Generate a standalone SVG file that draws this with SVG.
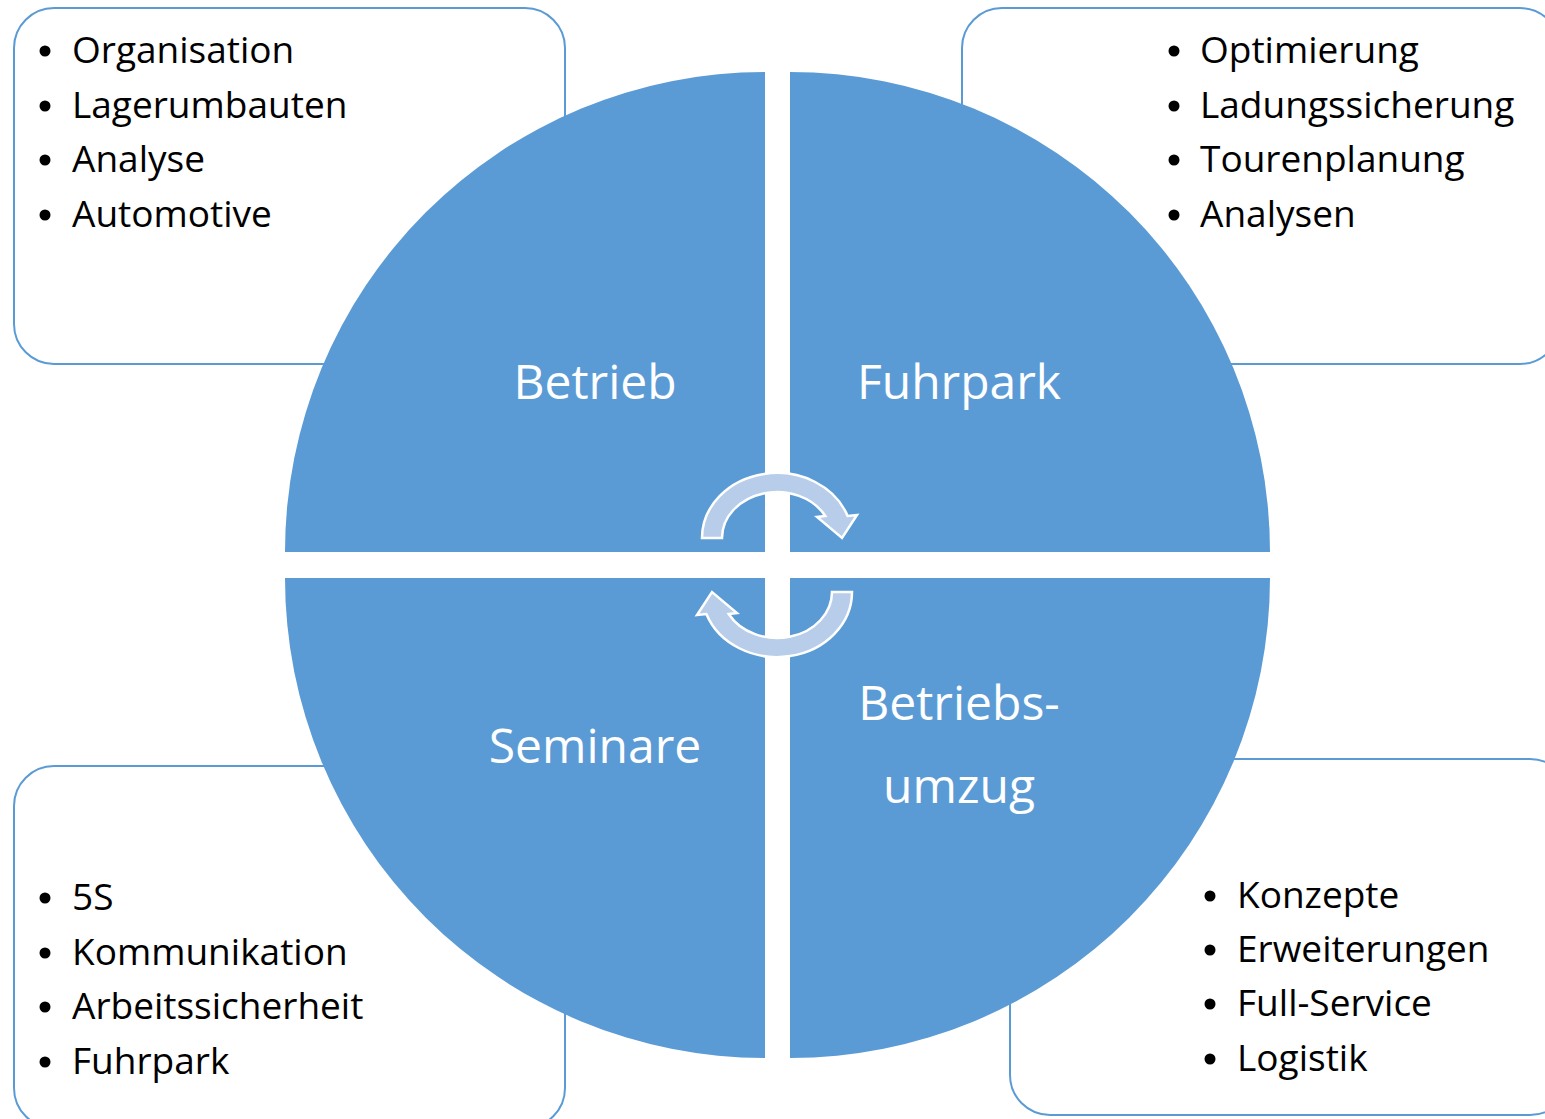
<svg xmlns="http://www.w3.org/2000/svg" width="1545" height="1119" viewBox="0 0 1545 1119">
<style>
.box{fill:#ffffff;stroke:#5b9bd5;stroke-width:2}
.q{fill:#5b9bd5}
.li{font-family:"Open Sans","Liberation Sans",sans-serif;font-size:37px;fill:#000000}
.lab{font-family:"Open Sans","Liberation Sans",sans-serif;font-size:48px;fill:#ffffff;text-anchor:middle}
.arr{fill:#b8cde9;stroke:#ffffff;stroke-width:2.5;stroke-linejoin:miter}
</style>
<defs>
<path id="cyc" d="M702,538 A75,65 0 0 1 847.6,516 L857,515 L842,538 L817,517 L825.3,516 A55,46 0 0 0 722,538 Z"/>
</defs>
<rect width="1545" height="1119" fill="#ffffff"/>
<g id="box-tl"><rect class="box" x="14" y="8" width="551" height="356" rx="40"/></g>
<g id="box-tr"><rect class="box" x="962" y="8" width="598" height="356" rx="40"/></g>
<g id="box-bl"><rect class="box" x="14" y="766" width="551" height="362" rx="40"/></g>
<g id="box-br"><rect class="box" x="1010" y="759" width="560" height="356" rx="40"/></g>

<g id="q-betrieb"><path class="q" d="M765,552 L285,552 A480,480 0 0 1 765,72 Z"/><text class="lab" x="595" y="399">Betrieb</text></g>
<g id="q-fuhrpark"><path class="q" d="M790,552 L790,72 A480,480 0 0 1 1270,552 Z"/><text class="lab" x="959" y="399">Fuhrpark</text></g>
<g id="q-seminare"><path class="q" d="M765,578 L765,1058 A480,480 0 0 1 285,578 Z"/><text class="lab" x="595" y="763">Seminare</text></g>
<g id="q-umzug"><path class="q" d="M790,578 L1270,578 A480,480 0 0 1 790,1058 Z"/><text class="lab" x="959" y="720">Betriebs-</text><text class="lab" x="959" y="803">umzug</text></g>

<g id="connectors">
<use href="#cyc" class="arr"/>
<use href="#cyc" class="arr" transform="rotate(180 777 565)"/>
</g>

<g id="list-tl">
<circle cx="45" cy="51" r="5.5"/><circle cx="45" cy="106" r="5.5"/><circle cx="45" cy="160" r="5.5"/><circle cx="45" cy="215" r="5.5"/>
<text class="li" x="72" y="63">Organisation</text>
<text class="li" x="72" y="118">Lagerumbauten</text>
<text class="li" x="72" y="172">Analyse</text>
<text class="li" x="72" y="227">Automotive</text>
</g>
<g id="list-tr">
<circle cx="1174" cy="51" r="5.5"/><circle cx="1174" cy="106" r="5.5"/><circle cx="1174" cy="160" r="5.5"/><circle cx="1174" cy="215" r="5.5"/>
<text class="li" x="1200" y="63">Optimierung</text>
<text class="li" x="1200" y="118">Ladungssicherung</text>
<text class="li" x="1200" y="172">Tourenplanung</text>
<text class="li" x="1200" y="227">Analysen</text>
</g>
<g id="list-bl">
<circle cx="45" cy="898" r="5.5"/><circle cx="45" cy="953" r="5.5"/><circle cx="45" cy="1007" r="5.5"/><circle cx="45" cy="1062" r="5.5"/>
<text class="li" x="72" y="910">5S</text>
<text class="li" x="72" y="965">Kommunikation</text>
<text class="li" x="72" y="1019">Arbeitssicherheit</text>
<text class="li" x="72" y="1074">Fuhrpark</text>
</g>
<g id="list-br">
<circle cx="1210" cy="896" r="5.5"/><circle cx="1210" cy="950" r="5.5"/><circle cx="1210" cy="1004" r="5.5"/><circle cx="1210" cy="1059" r="5.5"/>
<text class="li" x="1237" y="908">Konzepte</text>
<text class="li" x="1237" y="962">Erweiterungen</text>
<text class="li" x="1237" y="1016">Full-Service</text>
<text class="li" x="1237" y="1071">Logistik</text>
</g>
</svg>
